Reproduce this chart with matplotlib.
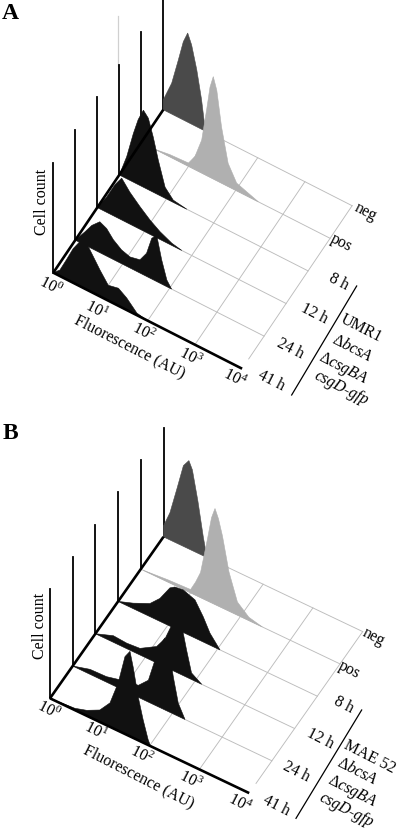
import numpy as np
import matplotlib
matplotlib.use("Agg")
import matplotlib.pyplot as plt

plt.rcParams['font.family'] = ['Liberation Serif', 'DejaVu Serif']
plt.rcParams['mathtext.fontset'] = 'custom'
plt.rcParams['mathtext.rm'] = 'Liberation Serif'
plt.rcParams['mathtext.it'] = 'Liberation Serif:italic'

# series are listed from front to back
series_names = ['41 h', '24 h', '12 h', '8 h', 'pos', 'neg']
series_colors = ['#111111', '#111111', '#111111', '#111111', '#b0b0b0', '#4a4a4a']
decade_labels = [r'$\mathit{10^0}$', r'$\mathit{10^1}$', r'$\mathit{10^2}$', r'$\mathit{10^3}$', r'$\mathit{10^4}$']

# Panel A, log10 fluorescence and cell count in percent of the count axis
a_log = [
    [0, .14, .28, .42, .60, .74, .85, .99, 1.165, 1.38, 1.555, 1.77, 1.98],
    [0, .205, .35, .52, .665, .805, .98, 1.16, 1.37, 1.51, 1.62, 1.725, 1.83, 1.94, 2.04],
    [0, .2, .375, .517, .69, .905, 1.117, 1.33, 1.58, 1.79],
    [0, .157, .297, .40, .51, .615, .72, .826, .97, 1.144, 1.43],
    [.3, .6, 1.0, 1.138, 1.28, 1.385, 1.456, 1.525, 1.6, 1.70, 1.84, 2.02, 2.48],
    [0, 0, .178, .318, .424, .517, .60, .708, .81, .883, .89],
]
a_count = [
    [0, 5.5, 18, 31, 43, 40, 33, 24, 14, 16, 11, 2, 0],
    [0, 12, 21, 28, 25, 18, 12.5, 10, 12, 21, 37, 42, 22, 6, 0],
    [0, 14, 29, 38, 29, 20.5, 13, 7, 2, 0],
    [0, 20, 44, 59, 70, 65, 50, 31.5, 10, 2, 0],
    [0, 2, 3, 12, 30, 60, 82, 93, 82, 51, 21, 7, 0],
    [0, 9, 28, 52, 71, 81, 72, 52, 27, 3, 0],
]

# Panel B
b_log = [
    [0, .50, .737, 1.0, 1.205, 1.37, 1.506, 1.606, 1.67, 1.77, 1.87, 1.97, 2.02],
    [0, .347, .68, .95, 1.32, 1.52, 1.65, 1.75, 1.85, 1.94, 2.02, 2.12, 2.255],
    [0, .36, .63, .895, 1.23, 1.40, 1.5, 1.63, 1.73, 1.83, 1.93, 2.135],
    [0, .305, .64, .84, 1.04, 1.14, 1.31, 1.544, 1.71, 1.845, 2.046],
    [.05, .54, 1.0, 1.1, 1.2, 1.34, 1.42, 1.49, 1.56, 1.64, 1.77, 1.94, 2.17, 2.44],
    [0, 0, .13, .27, .4, .51, .58, .69, .8, .86, .87],
]
b_count = [
    [0, 1.7, 5, 11, 22, 44, 71, 78, 65, 40, 21, 5, 0],
    [0, 4.5, 5, 8, 11, 20, 41, 57, 66, 57, 34, 12, 0],
    [0, 6, 5, 6, 15, 26, 37.5, 51, 46, 25, 6, 0],
    [0, 5, 12, 21, 35, 38, 39, 35, 23, 11, 0],
    [0, 2, 3, 12, 23, 57, 78, 88, 80, 66, 36, 12, 3, 0],
    [0, 10, 25, 50, 74, 81, 74, 48, 17, 3, 0],
]


def draw_panel(ax, log_vals, counts, origin, decade, step, height):
    # oblique projection of (fluorescence, series, count) on to the page
    def project(d, i, c=0):
        d = np.asarray(d, dtype=float)
        i = np.asarray(i, dtype=float)
        c = np.asarray(c, dtype=float)
        return (origin[0] + d * decade[0] + i * step[0],
                origin[1] + d * decade[1] + i * step[1] - c / 100 * height)

    # light grid on the floor
    for i in range(1, 6):
        x, y = project([0, 4], i)
        ax.plot(x, y, color='#bcbcbc', lw=0.65, zorder=1)
    for d in range(1, 5):
        start = 0.3 if d == 4 else 0
        x, y = project(d, [start, 5])
        ax.plot(x, y, color='#bcbcbc', lw=0.65, zorder=1)

    # back to front so the near histograms cover the far ones
    for i in range(5, -1, -1):
        x, y = project([0, 0], i, [0, 100])
        ax.plot(x, y, color='black', lw=1.3, zorder=2 + (5 - i) * 2)
        px, py = project(log_vals[i], i, counts[i])
        ax.fill(px, py, color=series_colors[i], lw=0.4, zorder=3 + (5 - i) * 2)

    x, y = project([0, 4], 0)
    ax.plot(x, y, color='black', lw=1.9, zorder=20, solid_capstyle='butt')
    x, y = project(0, [0, 5])
    ax.plot(x, y, color='black', lw=1.9, zorder=20, solid_capstyle='butt')


def zoom_text(ax, x, y, s, rot=-27, size=11.5, off=0, **kw):
    ax.text(x / 3, y / 3 + off, s, rotation=rot, fontsize=size, ha='center', va='center',
            rotation_mode='anchor', zorder=30, **kw)


fig = plt.figure(figsize=(4, 8.3), dpi=100)
ax = fig.add_axes([0, 0, 1, 1])
ax.set_xlim(0, 400)
ax.set_ylim(830, 0)
ax.axis('off')

# panel A
draw_panel(ax, a_log, a_count, (53.3, 272.7), (47.2, 24), (22, -32.6), 110)
ax.plot([118.3, 118.3], [66, 16], color='#d0d0d0', lw=0.9, zorder=1)
zoom_text(ax, 32, 40, 'A', rot=0, size=17, weight='bold')
zoom_text(ax, 125, 605, 'Cell count', rot=90)
zoom_text(ax, 390, 1040, 'Fluorescence (AU)')
for (tx, ty), lab in zip([(150, 858), (290, 932), (430, 997), (572, 1072), (705, 1135)], decade_labels):
    zoom_text(ax, tx, ty, lab)
for (tx, ty), lab in zip([(815, 1143), (872, 1047), (942, 940), (1015, 845), (1025, 730), (1095, 635)], series_names):
    zoom_text(ax, tx, ty, lab)
zoom_text(ax, 1085, 985, 'UMR1')
zoom_text(ax, 1055, 1045, r'Δ$\mathit{bcsA}$')
zoom_text(ax, 1030, 1105, r'Δ$\mathit{csgBA}$')
zoom_text(ax, 1025, 1165, 'csgD-gfp', style='italic')
ax.plot([1070 / 3, 875 / 3], [858 / 3, 1185 / 3], color='black', lw=0.9)

# panel B
draw_panel(ax, b_log, b_count, (50, 698.3), (49.8, 23.7), (22.7, -32.3), 109)
zoom_text(ax, 30, 55, 'B', rot=0, size=17, off=415, weight='bold')
zoom_text(ax, 120, 632, 'Cell count', rot=90, off=415)
zoom_text(ax, 415, 1085, 'Fluorescence (AU)', off=415)
for (tx, ty), lab in zip([(145, 885), (285, 950), (425, 1020), (572, 1095), (720, 1165)], decade_labels):
    zoom_text(ax, tx, ty, lab, off=415)
for (tx, ty), lab in zip([(830, 1172), (890, 1070), (960, 970), (1030, 870), (1048, 765), (1120, 665)], series_names):
    zoom_text(ax, tx, ty, lab, off=415)
zoom_text(ax, 1108, 1025, 'MAE 52', off=415)
zoom_text(ax, 1070, 1070, r'Δ$\mathit{bcsA}$', off=415)
zoom_text(ax, 1055, 1130, r'Δ$\mathit{csgBA}$', off=415)
zoom_text(ax, 1040, 1185, 'csgD-gfp', style='italic', off=415)
ax.plot([1085 / 3, 888 / 3], [885 / 3 + 415, 1210 / 3 + 415], color='black', lw=0.9)

fig.savefig('out.png', dpi=100)
